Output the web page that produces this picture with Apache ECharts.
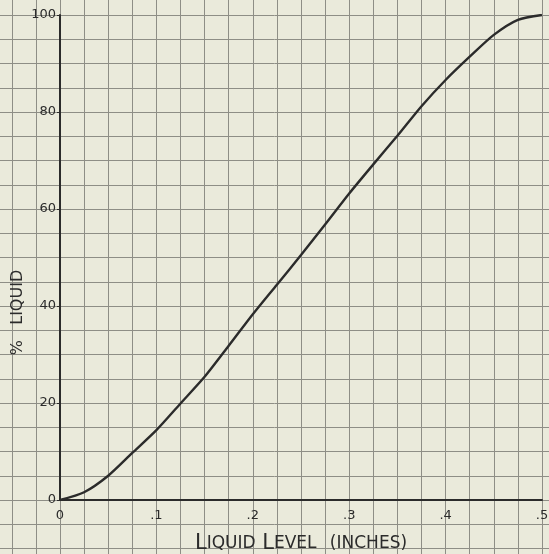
<!DOCTYPE html>
<html>
<head>
<meta charset="utf-8">
<title>% Liquid vs Liquid Level</title>
<script src="https://cdn.jsdelivr.net/npm/echarts@6/dist/echarts.min.js"></script>
<style>
  html, body { margin: 0; padding: 0; background: #eaeadb; }
  #chart { width: 549px; height: 554px; }
</style>
</head>
<body>
<div id="chart"></div>
<script>
// liquid level in inches, % liquid
const levelInches = [0, 0.025, 0.05, 0.075, 0.1, 0.125, 0.15, 0.175, 0.2, 0.225, 0.25, 0.275, 0.3, 0.325, 0.35, 0.375, 0.4, 0.425, 0.45, 0.475, 0.5];
const pctLiquid   = [0, 1.6, 5.0, 9.7, 14.4, 19.9, 25.4, 31.8, 38.3, 44.4, 50.5, 56.8, 63.2, 69.2, 75.1, 81.2, 86.6, 91.4, 95.9, 99.0, 100];

const xTickLabels = { 0: '0', 0.1: '.1', 0.2: '.2', 0.3: '.3', 0.4: '.4', 0.5: '.5' };
const yTicks = [0, 20, 40, 60, 80, 100];

const ink = '#2b2b2b';
const paperLine = '#8e8e86';
const font = 'DejaVu Sans';

const chart = echarts.init(document.getElementById('chart'));

chart.setOption({
  backgroundColor: '#eaeadb',
  animation: false,
  grid: [
    // graph paper, runs past the plot on every side
    { left: -12.3, right: -17.1, top: -9.25, bottom: -18.75, containLabel: false, outerBoundsMode: 'none' },
    // the plot itself
    { left: 60, right: 7, top: 15, bottom: 54, containLabel: false, outerBoundsMode: 'none' }
  ],
  xAxis: [
    {
      gridIndex: 0, type: 'value', min: -0.075, max: 0.525, interval: 0.025,
      axisLine: { show: false }, axisTick: { show: false }, axisLabel: { show: false },
      splitLine: { lineStyle: { color: paperLine, width: 1 } }
    },
    {
      gridIndex: 1, type: 'value', min: 0, max: 0.5, interval: 0.1,
      name: '{b|L}{s|IQUID}  {b|L}{s|EVEL}    {s|(INCHES)}',
      nameLocation: 'middle', nameGap: 33,
      nameTextStyle: {
        rich: {
          b: { fontFamily: font, fontSize: 21, color: ink },
          s: { fontFamily: font, fontSize: 17, color: ink }
        }
      },
      axisLine: { lineStyle: { color: ink, width: 2 } },
      axisTick: { show: false },
      axisLabel: {
        margin: 9, fontFamily: font, fontSize: 13, color: ink,
        formatter: v => xTickLabels[Math.round(v * 10) / 10] ?? ''
      },
      splitLine: { show: false }
    }
  ],
  yAxis: [
    {
      gridIndex: 0, type: 'value', min: -15, max: 105, interval: 5,
      axisLine: { show: false }, axisTick: { show: false }, axisLabel: { show: false },
      splitLine: { lineStyle: { color: paperLine, width: 1 } }
    },
    {
      gridIndex: 1, type: 'value', min: 0, max: 100, interval: 20,
      name: '%   LIQUID', nameLocation: 'middle', nameGap: 34, nameRotate: 90,
      nameMoveOverlap: false,
      nameTextStyle: { fontFamily: font, fontSize: 16, color: ink, padding: [0, 110, 0, 0] },
      axisLine: { lineStyle: { color: ink, width: 2 } },
      axisTick: { show: true, length: 3, lineStyle: { color: ink } },
      axisLabel: {
        margin: 4, fontFamily: font, fontSize: 13, color: ink,
        formatter: v => yTicks.includes(v) ? String(v) : ''
      },
      splitLine: { show: false }
    }
  ],
  series: [
    {
      type: 'line',
      xAxisIndex: 1, yAxisIndex: 1,
      data: levelInches.map((x, i) => [x, pctLiquid[i]]),
      smooth: 0.25,
      showSymbol: false,
      lineStyle: { color: ink, width: 2.4 }
    }
  ]
});
</script>
</body>
</html>
